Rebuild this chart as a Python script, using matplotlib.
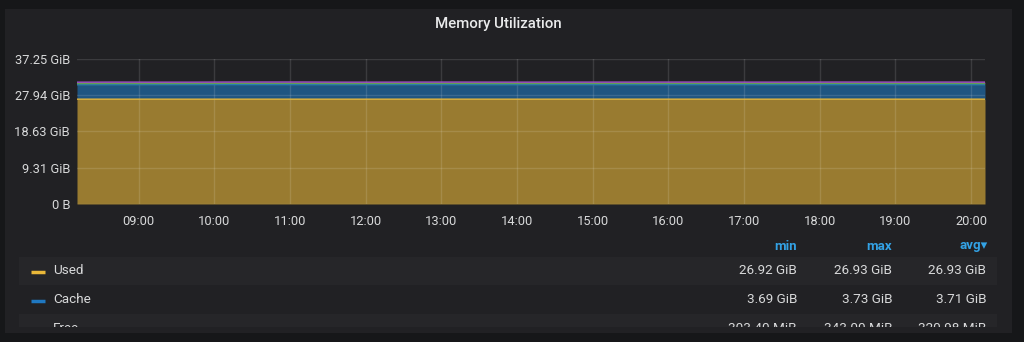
#!/usr/bin/env python
# coding: utf-8

import numpy as np
import pandas as pd
import matplotlib.pyplot as plt
import matplotlib.dates as mdates
from matplotlib.patches import Rectangle

# Samples every 30 minutes across the dashboard time range
times = pd.date_range("2020-06-01 08:11", periods=25, freq="30min")

# Stacked memory series (GiB, free/buffers in MiB)
used = [26.927, 26.926, 26.928, 26.924, 26.927, 26.929, 26.926, 26.925,
        26.928, 26.927, 26.930, 26.926, 26.924, 26.927, 26.928, 26.926,
        26.929, 26.927, 26.925, 26.928, 26.931, 26.926, 26.927, 26.929,
        26.928]
cache = [3.69, 3.70, 3.71, 3.72, 3.73, 3.72, 3.71, 3.70, 3.71, 3.72,
         3.71, 3.70, 3.71, 3.72, 3.71, 3.70, 3.71, 3.72, 3.71, 3.70,
         3.71, 3.72, 3.71, 3.71, 3.70]
free_mib = [321, 335, 308, 303.4, 318, 330, 343, 322, 310, 316, 325, 329,
            314, 307, 320, 338, 326, 312, 319, 324, 331, 315, 309, 327, 322]
buffers_mib = [370, 372, 369, 371, 370, 373, 372, 370, 369, 371, 372, 370,
               371, 373, 370, 369, 371, 372, 370, 371, 370, 372, 371, 370, 371]

series_names = ["Used", "Cache", "Free", "Buffers"]
series_colors = ["#EAB839", "#1F78C1", "#629E51", "#A352CC"]

y_ticks = [0, 9.31, 18.63, 27.94, 37.25]
y_tick_labels = ["0 B", "9.31 GiB", "18.63 GiB", "27.94 GiB", "37.25 GiB"]

W, H = 1024, 342
BG = "#161719"
PANEL = "#212124"
ROW = "#262629"
TEXT = "#d8d9da"
HEAD = "#33a2e5"

plt.rcParams['font.family'] = ['Roboto', 'DejaVu Sans']


def fmt_gib(v):
    if v < 1:
        return "{0:.2f} MiB".format(v * 1024)
    return "{0:.2f} GiB".format(v)


def main():
    fig = plt.figure(figsize=(W / 100, H / 100), dpi=100, facecolor=BG)

    # panel background (behind the axes)
    fig.patches.append(Rectangle((5 / W, (H - 333) / H), 1007 / W, 324 / H,
                                 transform=fig.transFigure,
                                 facecolor=PANEL, edgecolor="none",
                                 zorder=-5))
    fig.text(498 / W, 1 - 24 / H, "Memory Utilization", color="#e9eaeb",
             fontsize=10.8, fontweight="medium", ha="center", va="center")

    # graph
    ax = fig.add_axes([77 / W, (H - 204) / H, 908 / W, 145 / H])
    ax.set_facecolor(PANEL)
    data = [np.array(used), np.array(cache),
            np.array(free_mib) / 1024, np.array(buffers_mib) / 1024]
    bottom = np.zeros(len(times))
    for vals, color in zip(data, series_colors):
        top = bottom + vals
        ax.fill_between(times, bottom, top, color=color, alpha=0.6,
                        linewidth=0, zorder=2)
        ax.plot(times, top, color=color, linewidth=1, zorder=3)
        bottom = top

    ax.set_xlim(times[0], times[-1])
    ax.set_ylim(0, 37.25)
    ax.set_yticks(y_ticks)
    ax.set_yticklabels(y_tick_labels)
    ax.xaxis.set_major_locator(mdates.HourLocator())
    ax.xaxis.set_major_formatter(mdates.DateFormatter("%H:%M"))
    ax.tick_params(colors=TEXT, labelsize=9.3, length=0)
    ax.tick_params(axis="x", pad=8)
    ax.tick_params(axis="y", pad=5)
    ax.grid(True, color="white", alpha=0.12, linewidth=1, zorder=4)
    ax.set_axisbelow(False)
    for s in ax.spines.values():
        s.set_visible(False)

    # legend table, axes in pixel units so rows clip at the panel edge
    top_px, bot_px = 232, 327
    lg = fig.add_axes([0, (H - bot_px) / H, 1, (bot_px - top_px) / H])
    lg.set_xlim(0, W)
    lg.set_ylim(bot_px, top_px)
    lg.axis("off")

    cols = [("min", np.min, 797), ("max", np.max, 892), ("avg", np.mean, 986)]
    header_y = 246
    row_h = 28.5
    for name, func, xr in cols:
        label = name + "\u25BE" if name == "avg" else name
        lg.text(xr + (2 if name == "avg" else 0), header_y, label, color=HEAD,
                fontsize=9.5, fontweight="bold", ha="right", va="center",
                clip_on=True)

    # only the first three rows fit inside the panel
    for i, (name, vals, color) in enumerate(zip(series_names[:3], data,
                                                series_colors)):
        yc = header_y + 25 + i * row_h
        if i % 2 == 0:
            lg.add_patch(Rectangle((19, yc - 14.5), 978, 28.5,
                                   facecolor=ROW, edgecolor="none"))
        lg.plot([31, 45], [yc + 1, yc + 1], color=color, linewidth=2.5,
                solid_capstyle="butt", clip_on=True)
        lg.text(53, yc, name, color=TEXT, fontsize=9.7, ha="left",
                va="center", clip_on=True)
        for _, func, xr in cols:
            lg.text(xr, yc, fmt_gib(func(vals)), color=TEXT, fontsize=9.7,
                    ha="right", va="center", clip_on=True)

    fig.savefig("out.png", dpi=100, facecolor=BG)


if __name__ == "__main__":
    main()
